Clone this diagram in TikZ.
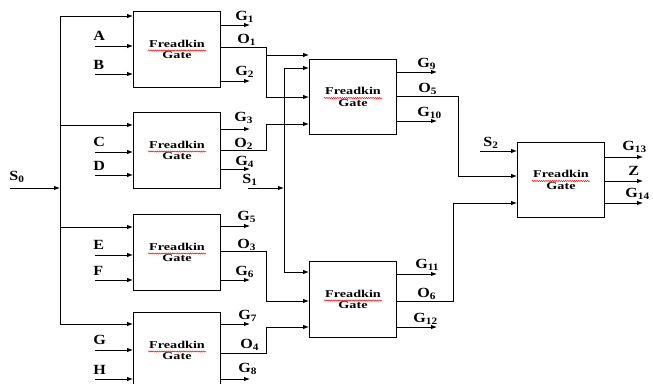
\documentclass[tikz,border=0pt]{standalone}
\usepackage{fontspec}
\setmainfont{Liberation Serif}
\newfontfamily\gatefont{Liberation Serif}[FakeStretch=1.35]
\newfontfamily\lblfont{Liberation Serif}[FakeStretch=1.15]
\usetikzlibrary{arrows.meta,decorations.pathmorphing}

\begin{document}
\begin{tikzpicture}[x=1pt, y=-1pt, line width=0.9pt,
        gate/.style={draw, minimum width=87pt, minimum height=75.5pt, inner sep=0pt, align=center, font=\gatefont\bfseries\fontsize{10.5}{11.5}\selectfont},
        lbl/.style={anchor=base west, inner sep=0pt, font=\lblfont\bfseries\fontsize{14}{16}\selectfont},
        arr/.style={-{Latex[length=6pt,width=4.5pt]}},
        squig/.style={red, line width=0.5pt, decorate, decoration={snake, amplitude=0.6pt, segment length=2.2pt}},
    ]
    \useasboundingbox (0,0) rectangle (653,383);
    \clip (0,0) rectangle (653,383);

    % gates
    \node[gate] (g1) at (177,49.5) {Freadkin\\Gate};
    \node[gate] (g2) at (177,150.5) {Freadkin\\Gate};
    \node[gate] (g3) at (177,252.5) {Freadkin\\Gate};
    \node[gate] (g4) at (177,350.5) {Freadkin\\Gate};
    \node[gate] (g5) at (353,97) {Freadkin\\Gate};
    \node[gate] (g6) at (353,299.5) {Freadkin\\Gate};
    \node[gate] (g7) at (561,180) {Freadkin\\Gate};
    \foreach \i in {1,...,7}
        \draw[squig] ([xshift=-29pt, yshift=-1pt]g\i.center) -- ++(58,0);

    % select line S0 and its bus
    \coordinate (s0) at (10,188);
    \coordinate (bt) at (60,16);
    \coordinate (bb) at (60,324);
    \node[lbl] (ls0) at (9,180) {S\textsubscript{0}};
    \draw (bt) -- (bb);
    \draw[arr] (s0) -- (s0 -| bt);
    \foreach \g/\y in {1/16, 2/125, 3/227, 4/324}
        \draw[arr] (60,\y) -- (g\g.west |- 0,\y);

    % data inputs
    \foreach \g/\ya/\yb/\la/\lb in {1/46/74/A/B, 2/152/175/C/D, 3/255/280/E/F, 4/350/379/G/H} {
        \node[lbl] (in\la) at (93,\ya-6) {\la};
        \node[lbl] (in\lb) at (93,\yb-5) {\lb};
        \draw[arr] (95,\ya) -- (g\g.west |- 0,\ya);
        \draw[arr] (95,\yb) -- (g\g.west |- 0,\yb);
    }

    % outputs of the first column
    \draw[arr] (g1.east |- 0,25) -- (250,25);
    \draw[arr] (g1.east |- 0,81) -- (250,81);
    \draw[arr] (g2.east |- 0,129) -- (250,129);
    \draw[arr] (g2.east |- 0,169) -- (250,169);
    \draw[arr] (g3.east |- 0,226) -- (250,226);
    \draw[arr] (g3.east |- 0,280) -- (250,280);
    \draw[arr] (g4.east |- 0,324) -- (250,324);
    \draw[arr] (g4.east |- 0,379) -- (250,379);
    \node[lbl] (lg1) at (235,20) {G\textsubscript{1}};
    \node[lbl] (lo1) at (237,43) {O\textsubscript{1}};
    \node[lbl] (lg2) at (235,75) {G\textsubscript{2}};
    \node[lbl] (lg3) at (234,121) {G\textsubscript{3}};
    \node[lbl] (lo2) at (234,147) {O\textsubscript{2}};
    \node[lbl] (lg4) at (235,165) {G\textsubscript{4}};
    \node[lbl] (lg5) at (237,220) {G\textsubscript{5}};
    \node[lbl] (lo3) at (237,248) {O\textsubscript{3}};
    \node[lbl] (lg6) at (235,275) {G\textsubscript{6}};
    \node[lbl] (lg7) at (238,319) {G\textsubscript{7}};
    \node[lbl] (lo4) at (240,348) {O\textsubscript{4}};
    \node[lbl] (lg8) at (238,372) {G\textsubscript{8}};

    % O1..O4 into the second column
    \draw[arr] (g1.east |- 0,47) -| (266,97) -- (g5.west |- 0,97);
    \draw[arr] (266,55) -- (g5.west |- 0,55);
    \draw[arr] (g2.east |- 0,150) -| (266,124) -- (g5.west |- 0,124);
    \draw[arr] (g3.east |- 0,251) -| (266,301) -- (g6.west |- 0,301);
    \draw[arr] (g4.east |- 0,353) -| (266,327) -- (g6.west |- 0,327);

    % select line S1
    \coordinate (s1) at (248,188);
    \coordinate (j1) at (284,188);
    \node[lbl] (ls1) at (242,183) {S\textsubscript{1}};
    \draw[arr] (s1) -- (j1);
    \draw[arr] (j1) |- (g5.west |- 0,68);
    \draw[arr] (j1) |- (g6.west |- 0,272);

    % outputs of the second column
    \draw[arr] (g5.east |- 0,72) -- (437,72);
    \draw[arr] (g5.east |- 0,121) -- (437,121);
    \draw[arr] (g6.east |- 0,274) -- (437,274);
    \draw[arr] (g6.east |- 0,327) -- (437,327);
    \node[lbl] (lg9) at (417,67) {G\textsubscript{9}};
    \node[lbl] (lo5) at (418,92) {O\textsubscript{5}};
    \node[lbl] (lg10) at (417,116) {G\textsubscript{10}};
    \node[lbl] (lg11) at (415,268) {G\textsubscript{11}};
    \node[lbl] (lo6) at (417,297) {O\textsubscript{6}};
    \node[lbl] (lg12) at (413,322) {G\textsubscript{12}};
    \draw[arr] (g5.east |- 0,96) -| (458,176) -- (g7.west |- 0,176);
    \draw[arr] (g6.east |- 0,301) -| (453,203) -- (g7.west |- 0,203);

    % select line S2 and final outputs
    \coordinate (s2) at (480,151);
    \node[lbl] (ls2) at (483,146) {S\textsubscript{2}};
    \draw[arr] (s2) -- (g7.west |- s2);
    \draw[arr] (g7.east |- 0,157) -- (643,157);
    \draw[arr] (g7.east |- 0,181) -- (643,181);
    \draw[arr] (g7.east |- 0,203) -- (643,203);
    \node[lbl] (lg13) at (622,150) {G\textsubscript{13}};
    \node[lbl] (lz) at (628,175) {Z};
    \node[lbl] (lg14) at (625,197) {G\textsubscript{14}};
\end{tikzpicture}
\end{document}
